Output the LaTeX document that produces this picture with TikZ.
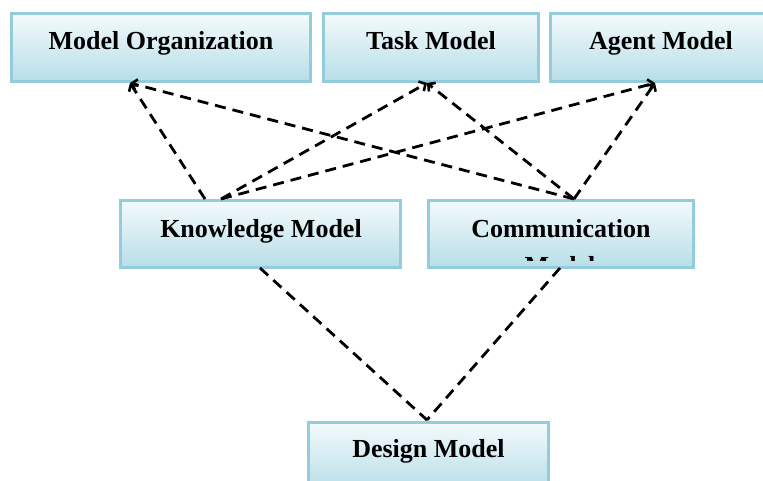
\documentclass[tikz,border=0pt]{standalone}
\usepackage{fontspec}
\setmainfont{Liberation Serif}
\usetikzlibrary{arrows.meta}
\definecolor{bord}{HTML}{93CDDD}
\definecolor{bot}{HTML}{B7DEE8}
\definecolor{topc}{HTML}{F4FAFC}
\tikzset{
  box/.style={draw=bord, line width=3pt, top color=topc, bottom color=bot, inner sep=0pt, minimum height=68pt},
  lbl/.style={font=\fontsize{26}{35}\selectfont\bfseries, anchor=base, inner sep=0pt},
  link/.style={line width=2.8pt, dash pattern=on 11pt off 7pt},
  tip/.style={-{Straight Barb[length=5pt,width=11pt,line width=2.6pt]}}
}
\begin{document}
\begin{tikzpicture}[x=1pt,y=-1pt]
\useasboundingbox (0,0) rectangle (763,481);
% boxes
\node[box, minimum width=299pt] (mo) at (161,47.5) {};
\node[box, minimum width=215pt] (task) at (431,47.5) {};
\node[box, minimum width=221pt] (agent) at (661,47.5) {};
\node[box, minimum width=280pt, minimum height=67pt] (know) at (260.5,234) {};
\node[box, minimum width=265pt, minimum height=67pt] (comm) at (561,234) {};
\node[box, minimum width=240pt, minimum height=67pt] (design) at (428.5,456) {};
% labels
\node[lbl] (tmo) at (161,49.5) {Model Organization};
\node[lbl] (ttask) at (431,49.5) {Task Model};
\node[lbl] (tagent) at (661,49.5) {Agent Model};
\node[lbl] (tknow) at (261,237) {Knowledge Model};
\node[lbl] (tcomm) at (561,237) {Communication};
\begin{scope}
  \clip (429,201) rectangle (693,260);
  \node[lbl] (tcomm2) at (560,274) {Model};
\end{scope}
\node[lbl] (tdesign) at (428.5,457) {Design Model};
% connector end points
\coordinate (mob) at (130,83);
\coordinate (taskb) at (427,83);
\coordinate (agentb) at (655,83);
\coordinate (knowt1) at (205,199);
\coordinate (knowt2) at (221,199);
\coordinate (commt) at (574,199);
\coordinate (knowb) at (260,268);
\coordinate (commb) at (560,268);
\coordinate (designt) at (427,420);
% connectors
\draw[link, tip] (knowt1) -- (mob);
\draw[link, tip] (commt) -- (mob);
\draw[link, tip] (knowt2) -- (taskb);
\draw[link, tip] (commt) -- (taskb);
\draw[link, tip] (knowt2) -- (agentb);
\draw[link, tip] (commt) -- (agentb);
\draw[link] (knowb) -- (designt);
\draw[link] (commb) -- (designt);
\end{tikzpicture}
\end{document}
